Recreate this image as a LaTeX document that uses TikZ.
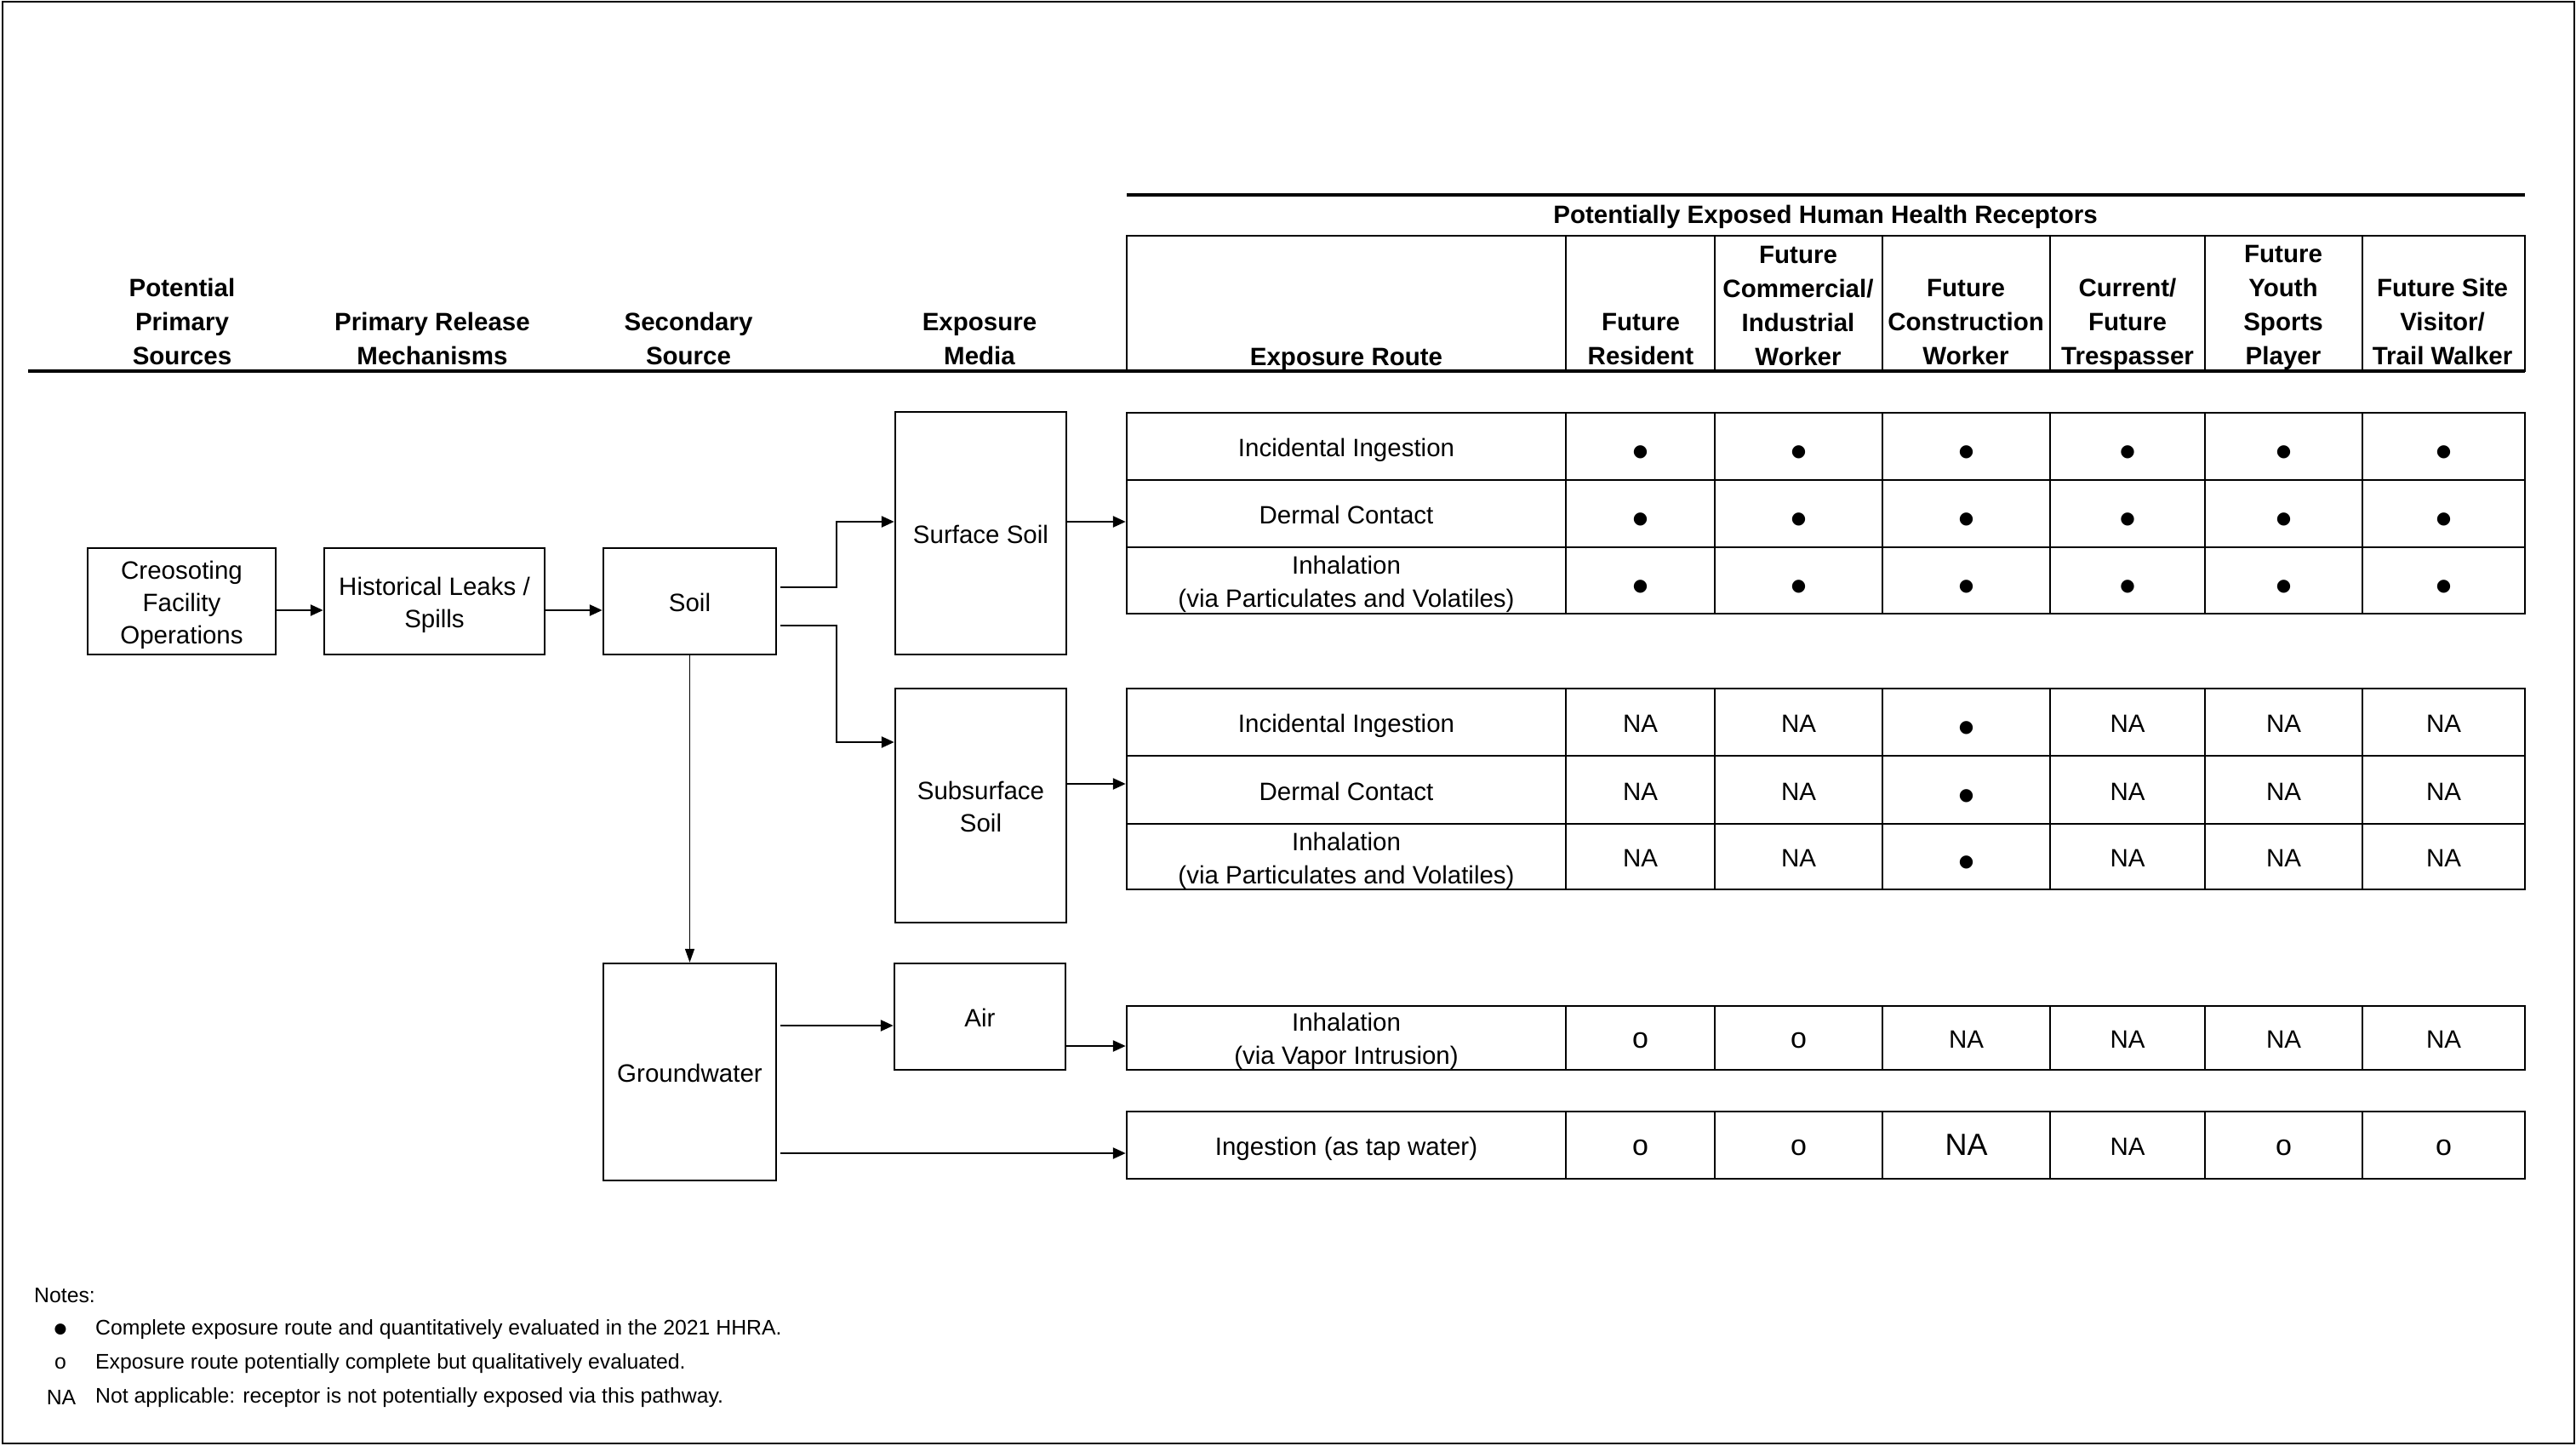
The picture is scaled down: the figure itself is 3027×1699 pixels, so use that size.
\documentclass[tikz,border=0pt]{standalone}
\usepackage{fontspec}
\setmainfont{Liberation Sans}
\newfontfamily\symfont{DejaVu Sans}
\usetikzlibrary{arrows.meta}
\newcommand\fullmark{{\symfont\fontsize{20}{20}\selectfont ●}}
\newcommand\openmark{{\fontsize{34}{34}\selectfont o}}
\newcommand\bigna{{\fontsize{36}{36}\selectfont NA}}
\newcommand\cellTop{\rule{0pt}{31pt}}
\newcommand\lowTop{\rule{0pt}{29pt}}
\newcommand\boxTop{\rule{0pt}{30pt}}
\newcommand\allBot{\rule[-6.5pt]{0pt}{6.5pt}}
\begin{document}
\begin{tikzpicture}[x=1pt,y=-1pt]
\tikzset{
 flowbox/.style={draw, line width=2.5pt, inner sep=0pt, align=center, font=\fontsize{29.5}{38}\selectfont},
 cell/.style={draw, line width=2.5pt, inner sep=0pt, align=center, font=\fontsize{29.5}{39}\selectfont},
 hcell/.style={draw, line width=2.5pt, inner sep=0pt},
 htext/.style={inner sep=0pt, align=center, font=\bfseries\fontsize{29.5}{40}\selectfont},
 conn/.style={line width=2.5pt, -{Triangle[length=15pt,width=13pt]}},
 thinconn/.style={line width=1.5pt, -{Triangle[length=16pt,width=11pt]}},
 hrule/.style={line width=3.5pt},
 notetext/.style={inner sep=0pt, anchor=west, font=\fontsize{24.8}{30}\selectfont},
 notemark/.style={inner sep=0pt, font=\fontsize{24.8}{30}\selectfont},
}
\useasboundingbox (0,0) rectangle (3027,1699);
\draw[line width=2pt] (3,2) rectangle (3025,1696);

% header rules
\draw[hrule] (1324,229) -- (2967,229);
\draw[hrule] (33,436) -- (2967,436);
\node[htext] (phr) at (2145,255) {Potentially Exposed Human Health Receptors};

% left headers
\node[htext] (hpps) at (214,378) {Potential\\Primary\\Sources};
\node[htext] (hprm) at (508,398) {Primary Release\\Mechanisms};
\node[htext] (hsec) at (809,398) {Secondary\\Source};
\node[htext] (hmed) at (1151,398) {Exposure\\Media};

% receptor header cells
\node[hcell, minimum width=516pt, minimum height=159pt] (h0) at (1582,356.5) {};
\foreach \c/\xa/\xb in {1/1840/2015,2/2015/2212,3/2212/2409,4/2409/2591,5/2591/2776,6/2776/2967}
  \node[hcell, minimum width={\xb-\xa}, minimum height=159pt] (h\c) at ({(\xa+\xb)/2},356.5) {};
\node[htext] (t0) at (1582,422) {Exposure Route};
\node[htext] (t1) at (1928,398) {Future\\Resident};
\node[htext] (t2) at (2113,359) {Future\\Commercial/\\Industrial\\Worker};
\node[htext] (t3) at (2310,378) {Future\\Construction\\Worker};
\node[htext] (t4) at (2500,381) {Current/\\Future\\Trespasser};
\node[htext] (t5) at (2683,361) {Future\\Youth\\Sports\\Player};
\node[htext] (t6) at (2870,378) {Future Site\\Visitor/\\Trail Walker};

% flow boxes
\node[flowbox, minimum width=221pt, minimum height=125pt] (cre) at (213.5,706.5) {\boxTop Creosoting\\Facility\\Operations\allBot};
\node[flowbox, minimum width=259pt, minimum height=125pt] (hist) at (510.5,706.5) {\boxTop Historical Leaks /\\Spills\allBot};
\node[flowbox, minimum width=203pt, minimum height=125pt] (soil) at (810.5,706.5) {\boxTop Soil\allBot};
\node[flowbox, minimum width=201pt, minimum height=285pt] (ss) at (1152.5,626.5) {\boxTop Surface Soil\allBot};
\node[flowbox, minimum width=201pt, minimum height=275pt] (sub) at (1152.5,946.5) {\boxTop Subsurface\\Soil\allBot};
\node[flowbox, minimum width=203pt, minimum height=255pt] (gw) at (810.5,1259.5) {\boxTop Groundwater\allBot};
\node[flowbox, minimum width=201pt, minimum height=125pt] (air) at (1151.5,1194.5) {\boxTop Air\allBot};

% surface soil table
\foreach \r/\ya/\yb/\txt in {1/485/564/{Incidental Ingestion},2/564/643/{Dermal Contact},3/643/721/{Inhalation\\(via Particulates and Volatiles)}}
  \node[cell, minimum width=516pt, minimum height={\yb-\ya}] (sr\r) at (1582,{(\ya+\yb)/2}) {\cellTop\txt\allBot};
\foreach \c/\xa/\xb in {1/1840/2015,2/2015/2212,3/2212/2409,4/2409/2591,5/2591/2776,6/2776/2967}
  \foreach \r/\ya/\yb in {1/485/564,2/564/643,3/643/721}
    \node[cell, minimum width={\xb-\xa}, minimum height={\yb-\ya}] (s\r-\c) at ({(\xa+\xb)/2},{(\ya+\yb)/2}) {\cellTop\fullmark\allBot};

% subsurface soil table
\foreach \r/\ya/\yb/\txt in {1/809/888/{Incidental Ingestion},2/888/968/{Dermal Contact},3/968/1045/{Inhalation\\(via Particulates and Volatiles)}}
  \node[cell, minimum width=516pt, minimum height={\yb-\ya}] (br\r) at (1582,{(\ya+\yb)/2}) {\cellTop\txt\allBot};
\foreach \c/\xa/\xb in {1/1840/2015,2/2015/2212,3/2212/2409,4/2409/2591,5/2591/2776,6/2776/2967}
  \foreach \r/\ya/\yb in {1/809/888,2/888/968,3/968/1045}
    \node[cell, minimum width={\xb-\xa}, minimum height={\yb-\ya}] (b\r-\c) at ({(\xa+\xb)/2},{(\ya+\yb)/2}) {\cellTop\ifnum\c=3 \fullmark\else NA\fi\allBot};

% vapor intrusion row
\node[cell, minimum width=516pt, minimum height=75pt] (vr) at (1582,1219.5) {\lowTop Inhalation\\(via Vapor Intrusion)\allBot};
\foreach \c/\xa/\xb/\m in {1/1840/2015/\openmark,2/2015/2212/\openmark,3/2212/2409/NA,4/2409/2591/NA,5/2591/2776/NA,6/2776/2967/NA}
  \node[cell, minimum width={\xb-\xa}, minimum height=75pt] (v-\c) at ({(\xa+\xb)/2},1219.5) {\cellTop\m\allBot};

% tap water row
\node[cell, minimum width=516pt, minimum height=79pt] (ir) at (1582,1345.5) {\cellTop Ingestion (as tap water)\allBot};
\foreach \c/\xa/\xb/\m in {1/1840/2015/\openmark,2/2015/2212/\openmark,3/2212/2409/\bigna,4/2409/2591/NA,5/2591/2776/\openmark,6/2776/2967/\openmark}
  \node[cell, minimum width={\xb-\xa}, minimum height=79pt] (i-\c) at ({(\xa+\xb)/2},1345.5) {\cellTop\m\allBot};

% connector levels
\coordinate (y717) at (0,717);
\coordinate (y690) at (0,690);
\coordinate (y735) at (0,735);
\coordinate (j1) at (983,613);
\coordinate (j2) at (983,872);
\coordinate (y921) at (0,921);
\coordinate (y1205) at (0,1205);
\coordinate (y1229) at (0,1229);
\coordinate (y1355) at (0,1355);

\draw[conn] (cre.east |- y717) -- (hist.west |- y717);
\draw[conn] (hist.east |- y717) -- (soil.west |- y717);
\draw[conn] ([xshift=4pt]soil.east |- y690) -| (j1) -- (ss.west |- j1);
\draw[conn] ([xshift=4pt]soil.east |- y735) -| (j2) -- (sub.west |- j2);
\draw[thinconn] (soil.south) -- (gw.north);
\draw[conn] (ss.east |- j1) -- (sr2.west |- j1);
\draw[conn] (sub.east |- y921) -- (br2.west |- y921);
\draw[conn] ([xshift=4pt]gw.east |- y1205) -- (air.west |- y1205);
\draw[conn] (air.east |- y1229) -- (vr.west |- y1229);
\draw[conn] ([xshift=4pt]gw.east |- y1355) -- (ir.west |- y1355);

% notes
\node[notetext] (notes) at (40,1522) {Notes:};
\node[notemark] (m1) at (71,1562) {{\symfont\fontsize{17}{17}\selectfont ●}};
\node[notetext] (n1) at (112,1562) {Complete exposure route and quantitatively evaluated in the 2021 HHRA.};
\node[notemark] (m2) at (71,1602) {o};
\node[notetext] (n2) at (112,1602) {Exposure route potentially complete but qualitatively evaluated.};
\node[notemark] (m3) at (72,1642) {NA};
\node[notetext] (n3) at (112,1642) {Not applicable: receptor is not potentially exposed via this pathway.};
\end{tikzpicture}
\end{document}
